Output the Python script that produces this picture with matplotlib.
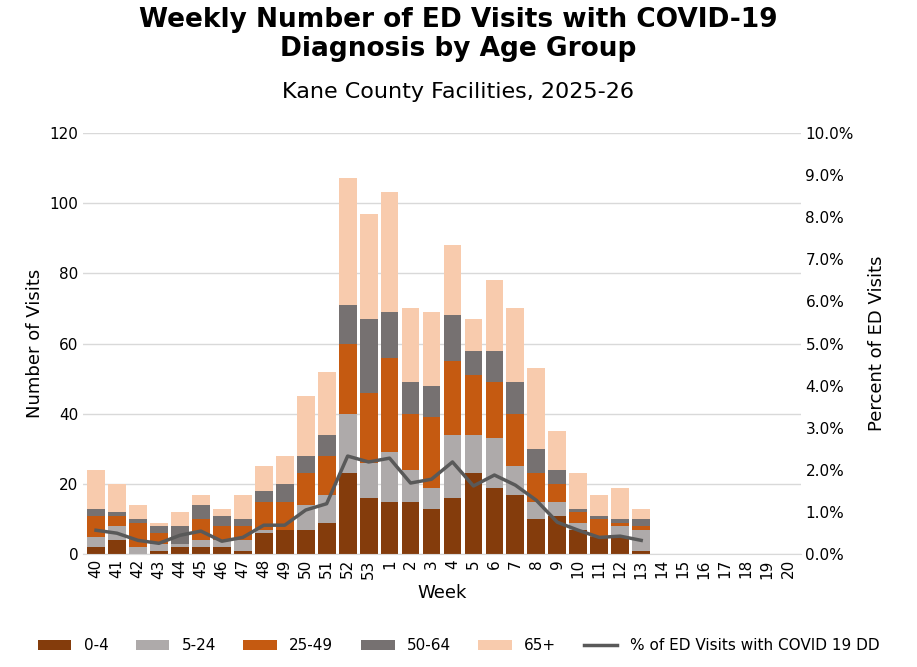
import numpy as np
import matplotlib
matplotlib.use("Agg")
import matplotlib.pyplot as plt

weeks = [str(w) for w in list(range(40, 54)) + list(range(1, 21))]
# cumulative tops, converted to per-group counts below
age_0_4 = [2, 4, 0, 1, 2, 2, 2, 1, 6, 7, 7, 9, 23, 16, 15, 15, 13, 16, 23, 19, 17, 10, 11, 7, 5, 5, 1]
age_5_24 = [3, 4, 2, 2, 1, 2, 2, 3, 1, 0, 7, 8, 17, 10, 14, 9, 6, 18, 11, 14, 8, 5, 4, 2, 0, 3, 6]
age_25_49 = [6, 3, 7, 3, 0, 6, 4, 4, 8, 8, 9, 11, 20, 20, 27, 16, 20, 21, 17, 16, 15, 8, 5, 3, 5, 1, 1]
age_50_64 = [2, 1, 1, 2, 5, 4, 3, 2, 3, 5, 5, 6, 11, 21, 13, 9, 9, 13, 7, 9, 9, 7, 4, 1, 1, 1, 2]
age_65 = [11, 8, 4, 1, 4, 3, 2, 7, 7, 8, 17, 18, 36, 30, 34, 21, 21, 20, 9, 20, 21, 23, 11, 10, 6, 9, 3]
pct_covid = [0.57, 0.50, 0.33, 0.26, 0.45, 0.55, 0.31, 0.40, 0.69, 0.69, 1.05, 1.20, 2.33, 2.19,
             2.28, 1.69, 1.78, 2.19, 1.62, 1.88, 1.64, 1.28, 0.76, 0.57, 0.40, 0.43, 0.33]

series = [("0-4", age_0_4, "#843C0C"), ("5-24", age_5_24, "#AEAAAA"),
          ("25-49", age_25_49, "#C55A11"), ("50-64", age_50_64, "#767171"),
          ("65+", age_65, "#F8CBAD")]

plt.rcParams['font.family'] = ['DejaVu Sans']
fig = plt.figure(figsize=(9.17, 6.67), dpi=100)
ax = fig.add_axes([0.091, 0.169, 0.782, 0.632])
x = np.arange(len(weeks))
n = len(age_0_4)
bottom = np.zeros(n)
handles = []
for label, vals, color in series:
    h = ax.bar(x[:n], vals, 0.85, bottom=bottom, color=color, label=label, zorder=2)
    bottom += np.array(vals)
    handles.append(h)

ax.set_xlim(-0.6, len(weeks) - 0.4)
ax.set_ylim(0, 120)
ax.set_yticks(range(0, 121, 20))
ax.set_xticks(x)
ax.set_xticklabels(weeks, rotation=90, fontsize=11)
ax.tick_params(axis='y', labelsize=11, length=0)
ax.tick_params(axis='x', length=0)
ax.grid(axis='y', color='#D9D9D9', linewidth=1, zorder=0)
for s in ['top', 'right', 'left']:
    ax.spines[s].set_visible(False)
ax.spines['bottom'].set_color('#D9D9D9')
ax.set_ylabel("Number of Visits", fontsize=13)
ax.set_xlabel("Week", fontsize=13)

ax2 = ax.twinx()
line, = ax2.plot(x[:n], pct_covid, color='#595959', linewidth=2.5,
                 label="% of ED Visits with COVID 19 DD", zorder=3)
ax2.set_ylim(0, 10)
ax2.set_yticks(np.arange(0, 10.1, 1))
ax2.set_yticklabels([f"{v:.1f}%" for v in np.arange(0, 10.1, 1)], fontsize=11)
ax2.tick_params(axis='y', length=0)
for s in ['top', 'right', 'left', 'bottom']:
    ax2.spines[s].set_visible(False)
ax2.set_ylabel("Percent of ED Visits", fontsize=13, labelpad=10)

fig.text(0.5, 0.948, "Weekly Number of ED Visits with COVID-19\nDiagnosis by Age Group",
         ha='center', va='center', fontsize=19, fontweight='bold', linespacing=1.15)
fig.text(0.5, 0.862, "Kane County Facilities, 2025-26", ha='center', va='center', fontsize=16)

fig.legend(handles + [line], [s[0] for s in series] + [line.get_label()],
           loc='lower center', bbox_to_anchor=(0.5, 0.0), ncol=6, frameon=False,
           fontsize=11, handlelength=2.2, handleheight=0.6, columnspacing=1.8)

fig.savefig("out.png", dpi=100)
